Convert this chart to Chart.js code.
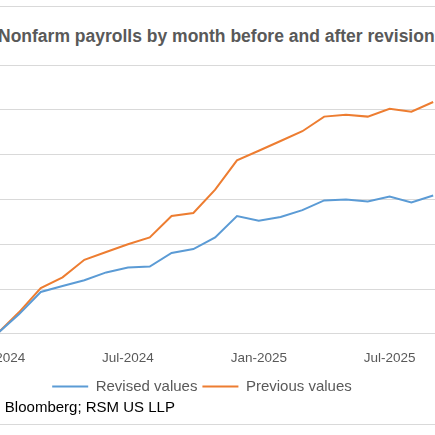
<!DOCTYPE html>
<html><head><meta charset="utf-8">
<script src="https://cdn.jsdelivr.net/npm/chart.js@4"></script>
<style>
body{margin:0;width:435px;height:435px;overflow:hidden;position:relative;background:#fff;font-family:"Liberation Sans",Arial,sans-serif}
#wrap{position:absolute;left:-39px;top:0;width:482px;height:404px}
#title{position:absolute;left:-2px;top:26px;font-weight:bold;font-size:17.5px;color:#595959;white-space:nowrap}
#src{position:absolute;left:-51px;top:398px;font-size:15px;color:#000;white-space:nowrap}
.hl{position:absolute;left:0;width:435px;height:1px;background:#d9d9d9}
</style></head><body>
<div class="hl" style="top:6px"></div>
<div class="hl" style="top:424px"></div>
<div id="title">Nonfarm payrolls by month before and after revisions</div>
<div id="wrap"><canvas id="c"></canvas></div>
<div id="src">Source: Bloomberg; RSM US LLP</div>
<script>
const months=["Jan-2024","Feb-2024","Mar-2024","Apr-2024","May-2024","Jun-2024","Jul-2024","Aug-2024","Sep-2024","Oct-2024","Nov-2024","Dec-2024","Jan-2025","Feb-2025","Mar-2025","Apr-2025","May-2025","Jun-2025","Jul-2025","Aug-2025","Sep-2025"];
const revised=[0,217,467,533,598,685,739,750,902,946,1076,1315,1261,1304,1380,1489,1500,1478,1533,1467,1543];
const previous=[0,240,510,630,826,913,1000,1076,1315,1348,1609,1935,2043,2152,2261,2424,2446,2424,2511,2478,2587];
const tickMonths=[0,6,12,18];
const toPts=a=>a.map((v,i)=>({x:i,y:v}));
new Chart(document.getElementById('c'),{
type:'line',
data:{datasets:[
{label:'Revised values',data:toPts(revised),borderColor:'#5B9BD5',backgroundColor:'#5B9BD5',borderWidth:2,pointRadius:0,tension:0},
{label:'Previous values',data:toPts(previous),borderColor:'#ED7D31',backgroundColor:'#ED7D31',borderWidth:2,pointRadius:0,tension:0}]},
options:{responsive:true,maintainAspectRatio:false,animation:false,
layout:{padding:{top:65,left:0,right:0,bottom:0}},
plugins:{tooltip:{enabled:false},
legend:{position:'bottom',labels:{boxWidth:36,boxHeight:0,color:'#595959',font:{size:15,family:'Liberation Sans'},padding:5}}},
scales:{
x:{type:'linear',min:0,max:20.45,
afterBuildTicks:s=>{s.ticks=tickMonths.map(v=>({value:v}));},
ticks:{callback:v=>months[v],color:'#595959',font:{size:13.5,family:'Liberation Sans'},maxRotation:0,padding:8},
grid:{display:false},border:{color:'#d9d9d9'}},
y:{min:0,max:3000,ticks:{display:false,stepSize:500},grid:{color:'#d9d9d9',drawTicks:false},border:{display:false}}}}
});
</script></body></html>
